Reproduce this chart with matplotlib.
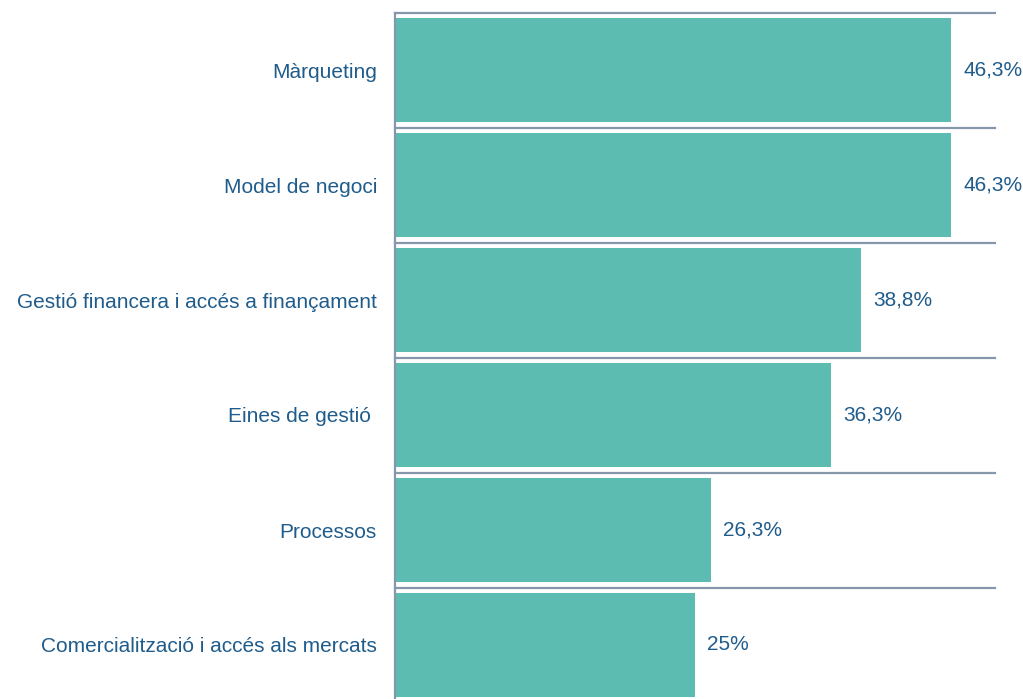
import matplotlib.pyplot as plt

categories = [
    "Màrqueting",
    "Model de negoci",
    "Gestió financera i accés a finançament",
    "Eines de gestió ",
    "Processos",
    "Comercialització i accés als mercats",
]
values = [46.3, 46.3, 38.8, 36.3, 26.3, 25.0]
value_labels = ["46,3%", "46,3%", "38,8%", "36,3%", "26,3%", "25%"]

BAR = "#5CBCB2"
LINE = "#8797AB"
TEXT = "#1F5C8B"

plt.rcParams["font.family"] = ["Liberation Sans", "DejaVu Sans"]

fig = plt.figure(figsize=(10.23, 6.99), dpi=100)
ax = fig.add_axes([395 / 1023, 1 - 702.5 / 699, 600 / 1023, 690 / 699])

y = list(range(len(categories)))
bars = ax.barh(y, values, height=0.9, color=BAR)
ax.set_xlim(0, 50)
ax.set_ylim(len(categories) - 0.5, -0.5)

for i in range(len(categories)):
    ax.axhline(i - 0.5, color=LINE, linewidth=1.6, clip_on=False, zorder=3)

for bar, lab in zip(bars, value_labels):
    ax.annotate(lab, (bar.get_width(), bar.get_y() + bar.get_height() / 2),
                xytext=(9, 0), textcoords="offset points",
                ha="left", va="center", fontsize=15, color=TEXT)

ax.set_yticks(y)
ax.set_yticklabels(categories, fontsize=15, color=TEXT)
ax.tick_params(axis="y", length=0, pad=13)
ax.set_xticks([])
for s in ["top", "right", "bottom"]:
    ax.spines[s].set_visible(False)
ax.spines["left"].set_color(LINE)
ax.spines["left"].set_linewidth(1.6)

fig.savefig("out.png", dpi=100)
